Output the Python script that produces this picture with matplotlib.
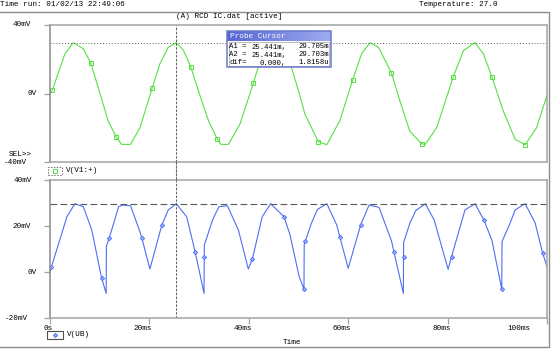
import matplotlib.pyplot as plt
import numpy as np
from matplotlib.colors import LinearSegmentedColormap
from matplotlib.patches import ConnectionPatch, Rectangle

# V(V1:+) source trace, time in ms, voltage in mV; 1 marks a trace symbol
src_time = [0.0, 0.5, 3.0, 4.7, 6.7, 8.2, 10.1, 11.7, 13.3, 14.4,
            16.2, 18.1, 20.6, 22.1, 23.8, 25.4, 26.8, 28.3, 30.2, 31.9,
            33.7, 34.4, 35.9, 38.2, 40.9, 42.3, 43.9, 45.3, 46.8, 48.4,
            50.3, 51.3, 54.0, 55.7, 58.3, 60.9, 62.7, 64.4, 66.1, 68.7,
            70.4, 72.4, 74.8, 75.5, 77.8, 81.1, 83.2, 85.5, 87.2, 88.9,
            91.2, 93.6, 95.6, 97.9, 100.0]
src_mv = [0.0, 2.2, 23.2, 29.7, 26.1, 17.9, -0.4, -16.0, -25.3, -29.7,
          -29.7, -20.0, 3.5, 17.3, 27.0, 29.7, 25.5, 15.7, -1.4, -16.0,
          -26.8, -29.7, -29.7, -18.0, 5.9, 19.2, 27.0, 29.7, 26.0, 17.0,
          -1.4, -12.1, -28.2, -29.9, -16.0, 7.9, 23.2, 29.7, 27.0, 12.0,
          -4.3, -22.0, -29.4, -29.7, -20.0, 9.4, 25.1, 29.7, 23.2, 9.8,
          -10.2, -26.8, -29.9, -20.0, -1.0]
src_sym = [0, 1, 0, 0, 0, 1, 0, 0, 1, 0,
           0, 0, 1, 0, 0, 0, 0, 1, 0, 0,
           1, 0, 0, 0, 1, 0, 0, 0, 0, 1,
           0, 0, 1, 0, 0, 1, 0, 0, 0, 1,
           0, 0, 1, 0, 0, 1, 0, 0, 0, 1,
           0, 0, 1, 0, 0]

# V(UB) trace
ub_time = [0.0, 0.3, 3.4, 5.0, 6.7, 8.4, 10.4, 11.3, 11.35, 11.9,
           13.8, 14.6, 16.2, 18.1, 18.5, 20.1, 22.5, 23.8, 25.4, 27.5,
           29.2, 31.0, 31.03, 31.05, 32.7, 34.0, 35.7, 37.9, 39.9, 40.7,
           42.7, 44.4, 47.1, 48.3, 50.1, 51.1, 51.15, 51.4, 52.6, 53.8,
           55.7, 57.7, 58.3, 60.0, 62.5, 64.2, 66.2, 68.7, 69.2, 71.1,
           71.13, 71.15, 72.4, 73.6, 75.5, 77.3, 80.1, 80.8, 83.5, 85.5,
           87.3, 88.9, 90.9, 90.95, 92.6, 93.6, 95.6, 97.6, 99.1, 100.0]
ub_mv = [0.0, 2.3, 24.0, 29.7, 28.4, 18.3, -2.8, -9.3, 11.3, 14.6,
         28.4, 29.1, 28.8, 17.5, 14.6, 1.3, 20.4, 27.0, 29.7, 24.0,
         8.8, -9.3, 6.4, 11.7, 22.6, 28.4, 28.8, 18.3, 1.3, 5.5,
         24.0, 29.7, 24.0, 16.1, -1.7, -7.5, 12.0, 13.6, 21.2, 27.2,
         29.7, 20.4, 15.4, 1.6, 20.4, 29.1, 28.1, 13.6, 8.8, -9.3,
         6.4, 12.8, 21.2, 26.7, 29.7, 22.6, 1.2, 6.7, 27.0, 29.7,
         22.6, 13.9, -7.5, 13.2, 21.4, 27.0, 29.7, 21.4, 8.4, 2.3]
ub_sym = [0, 1, 0, 0, 0, 0, 1, 0, 0, 1,
          0, 0, 0, 0, 1, 0, 1, 0, 0, 0,
          1, 0, 1, 0, 0, 0, 0, 0, 0, 1,
          0, 0, 1, 0, 0, 1, 0, 1, 0, 0,
          0, 0, 1, 0, 1, 0, 0, 0, 1, 0,
          1, 0, 0, 0, 0, 0, 0, 1, 0, 0,
          1, 0, 1, 0, 0, 0, 0, 0, 1, 0]

cursor_time = 25.441
cursor_src = 29.705
cursor_ub = 29.703
cursor_rows = [("A1 =", "25.441m,", "29.705m"),
               ("A2 =", "25.441m,", "29.703m"),
               ("dif=", "0.000,", "1.8158u")]

top_yticks = [40, 0, -40]
top_ylabels = ["40mV", "0V", "-40mV"]
bot_yticks = [40, 20, 0, -20]
bot_ylabels = ["40mV", "20mV", "0V", "-20mV"]
xticks = [0, 20, 40, 60, 80, 100]
xlabels = ["0s", "20ms", "40ms", "60ms", "80ms", "100ms"]

W, H = 553, 350
GREEN = "#55e043"
BLUE = "#4f6ef2"
FRAME = "#a3a3a3"
DARK = "#5a5a5a"
FS = 5.5

plt.rcParams["font.family"] = ["Liberation Mono", "DejaVu Sans Mono"]
plt.rcParams["font.size"] = FS


def fx(px):
    return px / W


def fy(py):
    return 1 - py / H


def fig_text(fig, px, py, s, **kw):
    kw.setdefault("va", "center")
    kw.setdefault("ha", "left")
    kw.setdefault("fontsize", FS)
    fig.text(fx(px), fy(py), s, **kw)


def fig_line(fig, xs, ys, **kw):
    fig.add_artist(plt.Line2D([fx(x) for x in xs], [fy(y) for y in ys],
                              transform=fig.transFigure, **kw))


def style_axes(ax, yticks):
    for side, sp in ax.spines.items():
        sp.set_color(FRAME)
        sp.set_linewidth(1.1)
    ax.spines["left"].set_color("#8a8a8a")
    ax.set_xlim(0, 100)
    ax.set_yticks(yticks)
    ax.tick_params(axis="y", length=4, width=0.9, color=FRAME,
                   direction="out", labelleft=False)
    ax.set_facecolor("white")


def ylabel_texts(ax, ticks, labels, right_px):
    tr = ax.get_yaxis_transform()
    for v, lbl, r in zip(ticks, labels, right_px):
        ax.annotate(lbl, xy=(0, v), xycoords=tr, xytext=(r - 50, 0),
                    textcoords="offset pixels", ha="right", va="center",
                    fontsize=FS, annotation_clip=False)


fig = plt.figure(figsize=(W / 100, H / 100), dpi=100)

ax_top = fig.add_axes([fx(50), fy(162), 497 / W, 137 / H])
ax_bot = fig.add_axes([fx(50), fy(318), 497 / W, 138 / H])

# upper plot: source voltage
style_axes(ax_top, top_yticks)
ax_top.set_ylim(-40, 40)
ax_top.tick_params(axis="x", length=0, labelbottom=False)
ax_top.plot(src_time, src_mv, color=GREEN, lw=0.8, marker="s", ms=2.8,
            mfc="none", mec=GREEN, mew=0.7,
            markevery=[bool(s) for s in src_sym])
ax_top.axhline(cursor_src, color=DARK, lw=0.7, ls=(0, (1, 2)))
ax_top.axvline(cursor_time, color=DARK, lw=0.7, ls=(0, (2.5, 1.5)))
ylabel_texts(ax_top, top_yticks, top_ylabels, [31, 37, 27])
ax_top.annotate("SEL>>", xy=(0, -40), xycoords=ax_top.get_yaxis_transform(),
                xytext=(-18, 7), textcoords="offset pixels", ha="right",
                va="center", fontsize=FS, annotation_clip=False)

# lower plot: V(UB)
style_axes(ax_bot, bot_yticks)
ax_bot.set_ylim(-20, 40)
ax_bot.set_xticks(xticks)
ax_bot.tick_params(axis="x", length=4, width=0.9, color=FRAME,
                   direction="out", labelbottom=False)
ax_bot.plot(ub_time, ub_mv, color=BLUE, lw=0.8, marker="D", ms=2.2,
            mfc="#9aabff", mec=BLUE, mew=0.6,
            markevery=[bool(s) for s in ub_sym])
ax_bot.axhline(cursor_ub, color=DARK, lw=0.8, ls=(0, (6, 3)))
ax_bot.axvline(cursor_time, color=DARK, lw=0.7, ls=(0, (2.5, 1.5)))
ylabel_texts(ax_bot, bot_yticks, bot_ylabels, [32, 31, 37, 28])

xtr = ax_bot.get_xaxis_transform()
for t, lbl in zip(xticks, xlabels):
    dx = 3 if t < 100 else -16
    ax_bot.annotate(lbl, xy=(t, 0), xycoords=xtr, xytext=(dx, -10),
                    textcoords="offset pixels", ha="right", va="center",
                    fontsize=FS, annotation_clip=False)

# cursor line across the gap between the plots
fig.add_artist(ConnectionPatch(xyA=(cursor_time, -40), coordsA=ax_top.transData,
                               xyB=(cursor_time, 40), coordsB=ax_bot.transData,
                               color=DARK, lw=0.7, ls=(0, (2.5, 1.5))))

# window frame and header
fig_line(fig, [0, 549, 549, 0], [12, 12, 347, 347], color="#8c8c8c", lw=1.0)
fig_text(fig, 0, 6.5, "Time run: 01/02/13 22:49:06", va="baseline")
fig_text(fig, 498, 6.5, "Temperature: 27.0", va="baseline", ha="right")
fig_text(fig, 229, 16, "(A) RCD IC.dat [active]", ha="center")
fig_text(fig, 292, 343, "Time", ha="center")

# trace legends
fig.add_artist(Rectangle((fx(48), fy(175)), 14 / W, 8 / H, transform=fig.transFigure,
                         fill=False, ec="#707070", lw=0.7, ls=(0, (1.5, 1.5))))
fig.add_artist(plt.Line2D([fx(55)], [fy(171)], transform=fig.transFigure,
                          marker="s", ms=2.8, mfc="none", mec=GREEN, mew=0.7))
fig_text(fig, 66, 171, "V(V1:+)")
fig.add_artist(Rectangle((fx(47), fy(339)), 16 / W, 8 / H, transform=fig.transFigure,
                         fill=False, ec="#505050", lw=0.8))
fig.add_artist(plt.Line2D([fx(55)], [fy(335)], transform=fig.transFigure,
                          marker="D", ms=2.2, mfc="#9aabff", mec=BLUE, mew=0.6))
fig_text(fig, 67, 335, "V(UB)")

# probe cursor window
fig.add_artist(Rectangle((fx(227), fy(67)), 104 / W, 36 / H, transform=fig.transFigure,
                         fc="white", ec="none", zorder=4))
ax_bar = fig.add_axes([fx(227), fy(41), 104 / W, 10 / H])
ax_bar.set_zorder(5)
ax_bar.imshow(np.linspace(0, 1, 64)[None, :], aspect="auto",
              cmap=LinearSegmentedColormap.from_list("bar", ["#5667d2", "#9eaaf0"]))
ax_bar.axis("off")
fig.add_artist(Rectangle((fx(229), fy(65.5)), 100 / W, 23.5 / H, transform=fig.transFigure,
                         fill=False, ec="#b0b0b0", lw=0.6, zorder=6))
fig.add_artist(Rectangle((fx(227), fy(67)), 104 / W, 36 / H, transform=fig.transFigure,
                         fill=False, ec="#6a79c8", lw=1.1, zorder=6))
fig_text(fig, 230, 36, "Probe Cursor", color="white", zorder=7)
for i, (name, tval, vval) in enumerate(cursor_rows):
    row_y = 47 + 8 * i
    fig_text(fig, 229, row_y, name, fontsize=5.2, zorder=7)
    fig_text(fig, 286, row_y, tval, ha="right", fontsize=5.2, zorder=7)
    fig_text(fig, 329, row_y, vval, ha="right", fontsize=5.2, zorder=7)

fig.savefig("out.png", dpi=100, facecolor="white")
